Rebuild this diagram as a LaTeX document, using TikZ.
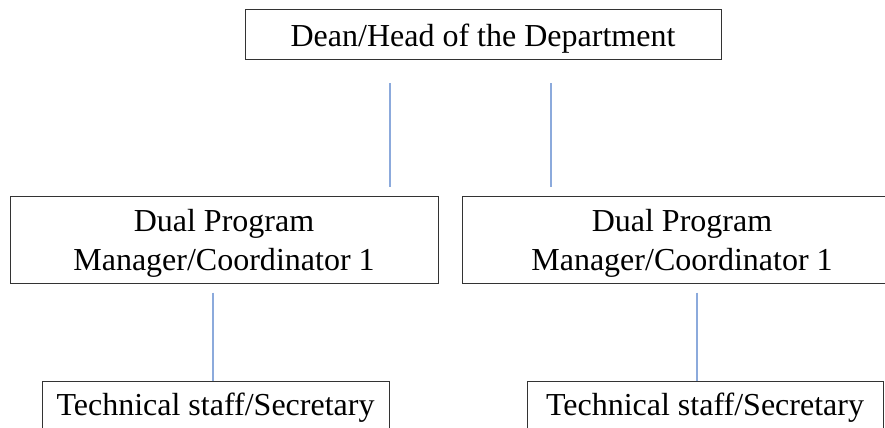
\documentclass[tikz,border=0pt]{standalone}
\usepackage{fontspec}
\setmainfont{Liberation Serif}
\usetikzlibrary{calc}
\definecolor{linkblue}{RGB}{140,170,220}
\tikzset{
  box/.style={draw=black!80, line width=0.9bp, inner sep=0pt, align=center,
              font=\fontsize{32bp}{39bp}\selectfont},
  link/.style={draw=linkblue, line width=1.2bp}
}
\begin{document}
\begin{tikzpicture}[x=1bp,y=-1bp]
  \useasboundingbox (0,0) rectangle (885,427);
  \clip (0,0) rectangle (885,427);

  % head of the chart
  \node[box, minimum width=476bp, minimum height=50bp,
        text height=24bp, text depth=0bp] (dean) at (483,34) {Dean/Head of the Department};

  % program managers
  \node[box, minimum width=428bp, minimum height=87bp] (mgrA) at (224,239.5)
        {\rule{0pt}{30bp}Dual Program\\Manager/Coordinator 1};
  \node[box, minimum width=440bp, minimum height=87bp] (mgrB) at (682,239.5)
        {\rule{0pt}{30bp}Dual Program\\Manager/Coordinator 1};

  % staff (boxes run past the lower edge)
  \node[box, minimum width=347bp, minimum height=80bp,
        text height=10bp, text depth=22bp] (staffA) at (215.5,421) {Technical staff/Secretary};
  \node[box, minimum width=356bp, minimum height=80bp,
        text height=10bp, text depth=22bp] (staffB) at (705,421) {Technical staff/Secretary};

  % reporting lines
  \draw[link] ($(dean.south)+(-93,24)$) -- ($(dean.south)+(-93,128)$);
  \draw[link] ($(dean.south)+(68,24)$) -- ($(dean.south)+(68,128)$);
  \draw[link] ($(staffA.north)+(-2.5,-88)$) -- ($(staffA.north)+(-2.5,0)$);
  \draw[link] ($(staffB.north)+(-8,-88)$) -- ($(staffB.north)+(-8,0)$);
\end{tikzpicture}
\end{document}
